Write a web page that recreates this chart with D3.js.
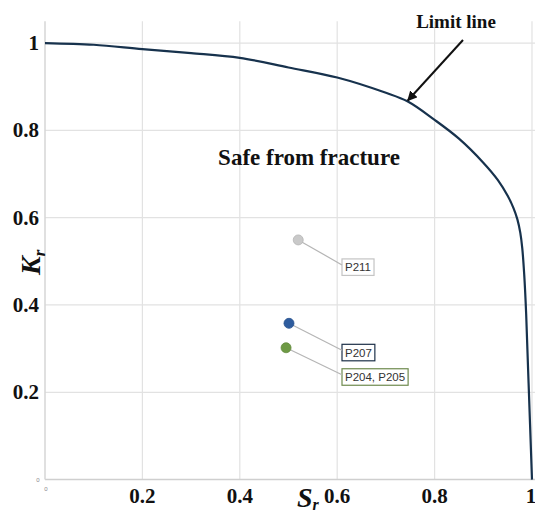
<!DOCTYPE html>
<html>
<head>
<meta charset="utf-8">
<script src="https://cdn.jsdelivr.net/npm/d3@7"></script>
<style>
  html, body { margin: 0; padding: 0; background: #fff; }
  svg { display: block; }
</style>
</head>
<body>
<svg id="chart" width="535" height="514"></svg>
<script>
// ---- data ----
const limitSr = [0, 0.1, 0.2, 0.3, 0.4, 0.5, 0.6, 0.7, 0.745, 0.8, 0.85, 0.9, 0.93, 0.95, 0.962, 0.970, 0.976, 0.980, 0.984, 0.988, 0.993, 1.0];
const limitKr = [1.0, 0.996, 0.986, 0.977, 0.966, 0.944, 0.921, 0.886, 0.866, 0.824, 0.781, 0.726, 0.686, 0.650, 0.622, 0.596, 0.565, 0.530, 0.470, 0.380, 0.221, 0];
const pointNames = ["P211", "P207", "P204, P205"];
const pointSr = [0.520, 0.501, 0.495];
const pointKr = [0.549, 0.358, 0.302];
const xTicks = [0.2, 0.4, 0.6, 0.8, 1];
const yTicks = [0.2, 0.4, 0.6, 0.8, 1];

// ---- styles ----
const pointFill = ["#c9c9c9", "#2e5c9e", "#6e9a45"];
const boxStroke = ["#c4c4c4", "#1d3048", "#6e8a4e"];
const labelDy = [19, 21, 21];

const svg = d3.select("#chart");
const x = d3.scaleLinear().domain([0, 1]).range([45, 532]);
const y = d3.scaleLinear().domain([0, 1.05]).range([479.6, 21.2]);

const serif = "'Liberation Serif', 'Times New Roman', serif";

// grid
svg.append("g").selectAll("line.v").data(xTicks).join("line")
  .attr("x1", d => x(d)).attr("x2", d => x(d))
  .attr("y1", y(1.05)).attr("y2", y(0))
  .attr("stroke", "#e2e2e2").attr("stroke-width", 1.2);
svg.append("g").selectAll("line.h").data(yTicks).join("line")
  .attr("x1", x(0)).attr("x2", 535)
  .attr("y1", d => y(d)).attr("y2", d => y(d))
  .attr("stroke", "#e2e2e2").attr("stroke-width", 1.2);

// axes lines
svg.append("line").attr("x1", x(0)).attr("x2", 535).attr("y1", y(0)).attr("y2", y(0))
  .attr("stroke", "#cfcfcf").attr("stroke-width", 1.5);
svg.append("line").attr("x1", x(0)).attr("x2", x(0)).attr("y1", y(1.05)).attr("y2", y(0))
  .attr("stroke", "#d6d6d6").attr("stroke-width", 1.5);

// tick labels
svg.append("g").selectAll("text").data(xTicks).join("text")
  .attr("x", d => d === 1 ? x(d) - 1 : x(d)).attr("y", 503)
  .attr("text-anchor", "middle")
  .attr("font-family", serif).attr("font-weight", "bold").attr("font-size", 21)
  .attr("fill", "#111")
  .text(d => d === 1 ? "1" : d3.format(".1f")(d));
svg.append("g").selectAll("text").data(yTicks).join("text")
  .attr("x", 39).attr("y", d => y(d) + 7)
  .attr("text-anchor", "end")
  .attr("font-family", serif).attr("font-weight", "bold").attr("font-size", 21)
  .attr("fill", "#111")
  .text(d => d === 1 ? "1" : d3.format(".1f")(d));
// tiny zero labels
svg.append("text").attr("x", 38).attr("y", y(0) + 2).attr("text-anchor", "middle")
  .attr("font-family", "Liberation Sans, Arial, sans-serif").attr("font-size", 6).attr("fill", "#888").text("0");
svg.append("text").attr("x", x(0) + 1).attr("y", y(0) + 11).attr("text-anchor", "middle")
  .attr("font-family", "Liberation Sans, Arial, sans-serif").attr("font-size", 6).attr("fill", "#888").text("0");

// axis titles
const kr = svg.append("text")
  .attr("transform", "translate(40,275) rotate(-90)")
  .attr("text-anchor", "start")
  .attr("font-family", serif).attr("font-weight", "bold").attr("font-style", "italic")
  .attr("font-size", 28).attr("fill", "#111");
kr.append("tspan").text("K");
kr.append("tspan").attr("font-size", 17).attr("dy", 5).text("r");

const sr = svg.append("text")
  .attr("x", 297).attr("y", 507)
  .attr("text-anchor", "start")
  .attr("font-family", serif).attr("font-weight", "bold").attr("font-style", "italic")
  .attr("font-size", 28).attr("fill", "#111");
sr.append("tspan").text("S");
sr.append("tspan").attr("font-size", 16).attr("dy", 3).text("r");

// limit line
const lineData = limitSr.map((s, i) => [s, limitKr[i]]);
svg.append("path").datum(lineData)
  .attr("d", d3.line().x(d => x(d[0])).y(d => y(d[1])).curve(d3.curveCatmullRom.alpha(0.5)))
  .attr("fill", "none").attr("stroke", "#17324d").attr("stroke-width", 2.2);

// annotations
svg.append("text").attr("x", 309).attr("y", 165).attr("text-anchor", "middle")
  .attr("font-family", serif).attr("font-weight", "bold").attr("font-size", 23)
  .attr("fill", "#111").text("Safe from fracture");
svg.append("text").attr("x", 456).attr("y", 28).attr("text-anchor", "middle")
  .attr("font-family", serif).attr("font-weight", "bold").attr("font-size", 19)
  .attr("fill", "#111").text("Limit line");

svg.append("defs").append("marker")
  .attr("id", "arrow").attr("viewBox", "0 0 10 10").attr("refX", 9).attr("refY", 5)
  .attr("markerWidth", 5).attr("markerHeight", 5).attr("orient", "auto")
  .append("path").attr("d", "M0,0 L10,5 L0,10 z").attr("fill", "#111");
svg.append("line")
  .attr("x1", 463).attr("y1", 40)
  .attr("x2", x(0.745)).attr("y2", y(0.866) - 1)
  .attr("stroke", "#111").attr("stroke-width", 2)
  .attr("marker-end", "url(#arrow)");

// points with labels
const pts = pointNames.map((n, i) => ({ name: n, sr: pointSr[i], kr: pointKr[i], i }));
const lg = svg.append("g");
pts.forEach(p => {
  const px = x(p.sr), py = y(p.kr);
  const bx = 342, by = py + labelDy[p.i];
  const t = lg.append("text")
    .attr("font-family", "'Liberation Sans', Arial, sans-serif")
    .attr("font-size", 11.5).attr("fill", "#333")
    .attr("x", bx + 3).attr("y", by + 12.5).text(p.name);
  const w = t.node().getComputedTextLength() + 6;
  lg.append("line").attr("x1", px).attr("y1", py).attr("x2", bx).attr("y2", by + 6)
    .attr("stroke", "#b5b5b5").attr("stroke-width", 1.2);
  lg.insert("rect", "text").attr("x", bx).attr("y", by).attr("width", w).attr("height", 16.5)
    .attr("fill", "#fff").attr("stroke", boxStroke[p.i]).attr("stroke-width", 1.2);
  lg.append("circle").attr("cx", px).attr("cy", py).attr("r", 5)
    .attr("fill", pointFill[p.i]).attr("stroke", d3.color(pointFill[p.i]).darker(0.3)).attr("stroke-width", 0.8);
});
</script>
</body>
</html>
